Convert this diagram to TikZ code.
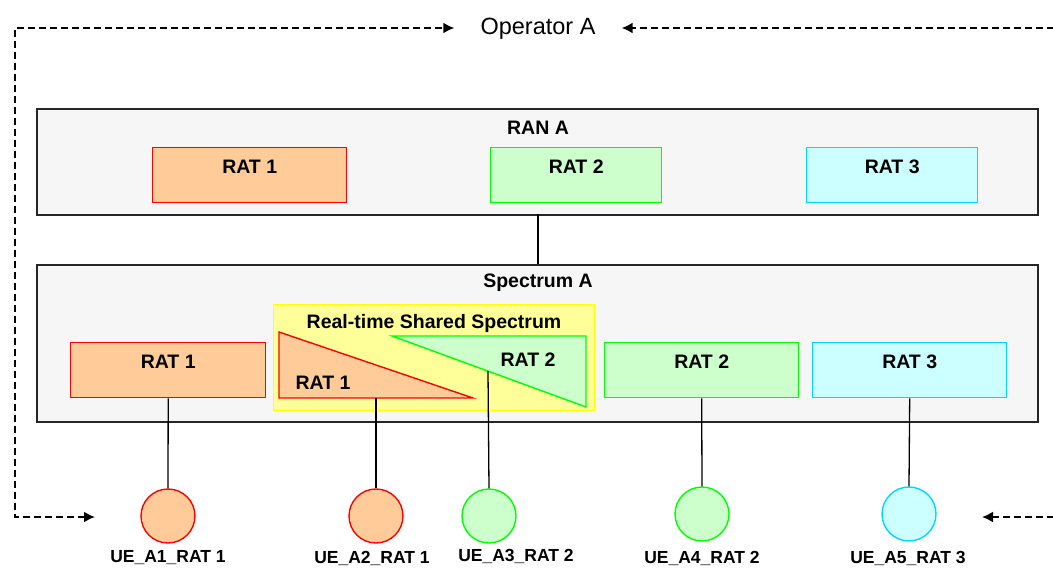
\documentclass[tikz,border=0pt]{standalone}
\usepackage{fontspec}
\setmainfont{Liberation Sans}
\usetikzlibrary{arrows.meta,positioning}
\definecolor{ratpeach}{HTML}{FFCC99}
\definecolor{ratmint}{HTML}{CCFFCC}
\definecolor{ratsky}{HTML}{CCFFFF}
\definecolor{ratline}{HTML}{00FF00}
\definecolor{skyline}{HTML}{00D8FF}
\definecolor{sharefill}{HTML}{FFFF99}
\definecolor{shareline}{HTML}{FFFF00}
\newcommand{\ratfont}{\fontsize{19.5}{23}\selectfont\bfseries}
\newcommand{\uefont}{\fontsize{17.5}{21}\selectfont\bfseries}
\newcommand{\opfont}{\fontsize{23.5}{27}\selectfont}
\tikzset{
  panel/.style={draw=black!85,line width=1.8pt,fill=gray!7,inner sep=0pt,anchor=north west},
  ratbox/.style={line width=1.4pt,minimum height=55pt,inner sep=0pt,text depth=17pt,anchor=north west,font=\ratfont},
  redcard/.style={ratbox,draw=red,fill=ratpeach},
  greencard/.style={ratbox,draw=ratline,fill=ratmint},
  skycard/.style={ratbox,draw=skyline,fill=ratsky},
  title/.style={font=\ratfont,inner sep=0pt},
  uecirc/.style={circle,minimum size=54pt,inner sep=0pt,line width=1.4pt},
  uelabel/.style={font=\uefont,inner sep=0pt},
  wire/.style={line width=1.3pt,draw=black},
  opflow/.style={line width=2pt,dash pattern=on 7pt off 4pt,{Latex[length=11pt,width=11pt]}-{Latex[length=11pt,width=11pt]}},
  opflowone/.style={line width=2pt,dash pattern=on 7pt off 4pt,-{Latex[length=11pt,width=11pt]}}
}

\begin{document}
\begin{tikzpicture}[x=1pt,y=-1pt]
  \fill[white] (0,0) rectangle (1053,568);
  \useasboundingbox (0,0) rectangle (1053,568);
  % operator
  \node[font=\opfont,inner xsep=26pt] (op) at (538,29) {Operator A};
  % RAN A
  \node[panel,minimum width=1001pt,minimum height=106pt] (ran) at (36,108) {};
  \node[title] (rantitle) at (538,128) {RAN A};
  \node[redcard,minimum width=194pt] (rr1) at (152,147) {RAT 1};
  \node[greencard,minimum width=171pt] (rr2) at (490,147) {RAT 2};
  \node[skycard,minimum width=171pt] (rr3) at (806,147) {RAT 3};
  % Spectrum A
  \node[panel,minimum width=1001pt,minimum height=157pt] (spec) at (36,264) {};
  \node[title] (spectitle) at (538,283) {Spectrum A};
  \node[anchor=north west,draw=shareline,fill=sharefill,line width=1.4pt,minimum width=321pt,minimum height=106pt,inner sep=0pt] (share) at (273,304) {};
  \node[title] (sharetitle) at (434,323) {Real-time Shared Spectrum};
  \node[redcard,minimum width=195pt] (sr1) at (70,342) {RAT 1};
  \node[greencard,minimum width=194pt] (sr2) at (604,342) {RAT 2};
  \node[skycard,minimum width=194pt] (sr3) at (812,342) {RAT 3};
  % shared triangles
  \draw[draw=red,fill=ratpeach,line width=1.4pt] (279,332) -- (279,398) -- (473,398) -- cycle;
  \draw[draw=ratline,fill=ratmint,line width=1.4pt] (392,336) -- (586,336) -- (586,407) -- cycle;
  \node[title] (tri1) at (323,383) {RAT 1};
  \node[title] (tri2) at (528,360) {RAT 2};
  \coordinate (tri1s) at (376,398);
  \coordinate (tri2s) at (488,371);
  % UEs
  \node[uecirc,draw=red,fill=ratpeach] (ue1) at (168,516) {};
  \node[uecirc,draw=red,fill=ratpeach] (ue2) at (376,516) {};
  \node[uecirc,draw=ratline,fill=ratmint] (ue3) at (489,516) {};
  \node[uecirc,draw=ratline,fill=ratmint] (ue4) at (702,514) {};
  \node[uecirc,draw=skyline,fill=ratsky] (ue5) at (909,514) {};
  \node[uelabel] (ue1t) at (168,558) {UE\_A1\_RAT 1};
  \node[uelabel] (ue2t) at (372,558) {UE\_A2\_RAT 1};
  \node[uelabel] (ue3t) at (516,556) {UE\_A3\_RAT 2};
  \node[uelabel] (ue4t) at (702,558) {UE\_A4\_RAT 2};
  \node[uelabel] (ue5t) at (908,558) {UE\_A5\_RAT 3};
  % wires
  \draw[wire] (538,214) -- (538,264);
  \draw[wire] (sr1.south) -- (ue1.north);
  \draw[wire] (tri1s) -- (ue2.north);
  \draw[wire] (tri2s) -- (ue3.north);
  \draw[wire] (sr2.south) -- (ue4.north);
  \draw[wire] (sr3.south) -- (ue5.north);
  % operator links
  \coordinate (lfoot) at (95,517);
  \coordinate (rfoot) at (982,517);
  \coordinate (redge) at (1054,517);
  \coordinate (redgetop) at (1054,28);
  \draw[opflow] (lfoot) -- (15,517) -- (15,28) -- (op.west |- 0,28);
  \draw[opflowone] (redge) -- (rfoot);
  \draw[opflowone] (redgetop) -- (op.east |- 0,28);
\end{tikzpicture}
\end{document}
